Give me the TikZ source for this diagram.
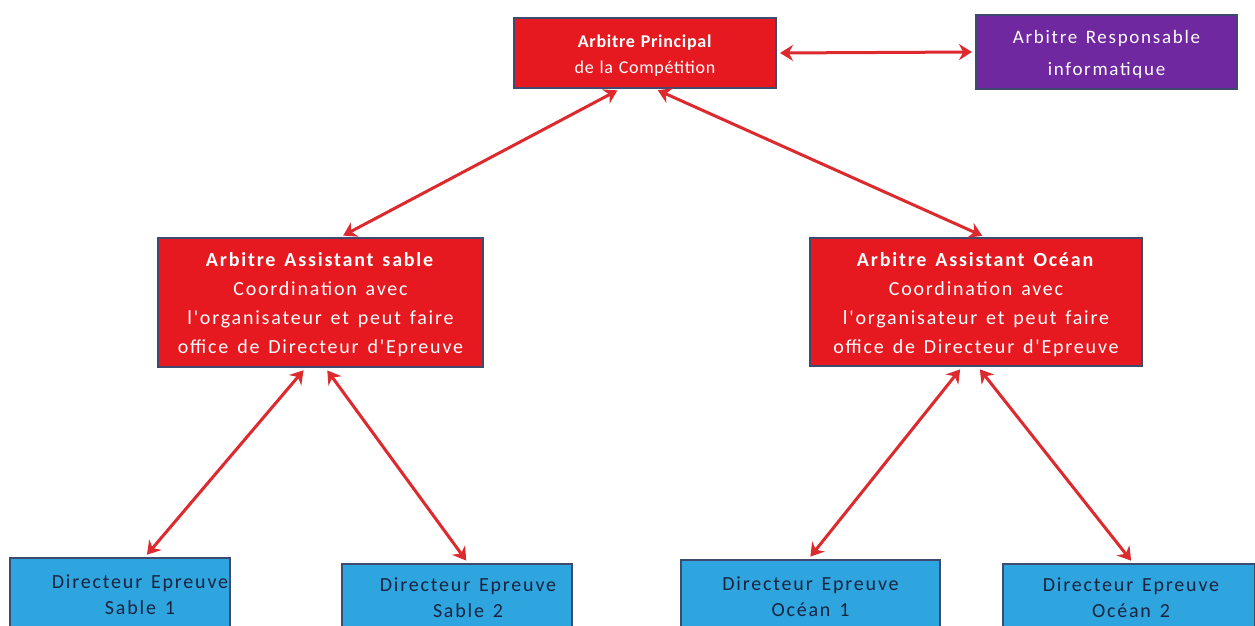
\documentclass[tikz,border=0pt]{standalone}
\usepackage{fontspec}
\setmainfont{Carlito}
\newfontfamily\spaced[LetterSpace=9,WordSpace=1.4]{Carlito}
\newfontfamily\spacedtop[LetterSpace=4,WordSpace=1.2]{Carlito}
\usetikzlibrary{arrows.meta,calc}
\definecolor{boxred}{HTML}{E5191F}
\definecolor{boxedge}{HTML}{3E4A6E}
\definecolor{boxpurple}{HTML}{7028A0}
\definecolor{boxblue}{HTML}{2EA5DE}
\definecolor{navy}{HTML}{1A2340}
\definecolor{arrred}{HTML}{DC2A2E}
\tikzset{
  boxbase/.style={draw=boxedge,line width=2pt,align=center,inner sep=0pt},
  redbox/.style={boxbase,fill=boxred},
  purplebox/.style={boxbase,fill=boxpurple},
  bluebox/.style={boxbase,fill=boxblue},
  whitetext/.style={text=white,align=center,inner sep=0pt},
  bluetext/.style={text=navy,align=center,anchor=north,inner sep=0pt,font=\spaced\fontsize{20}{26}\selectfont},
  arr/.style={draw=arrred,line width=3pt,{Stealth[length=13pt,width=16pt]}-{Stealth[length=13pt,width=16pt]},shorten <=3pt,shorten >=3pt}
}
\begin{document}
\begin{tikzpicture}[x=1pt,y=-1pt]
\useasboundingbox (0,0) rectangle (1255,626);
\clip (0,0) rectangle (1255,626);
\fill[white] (0,0) rectangle (1255,626);
% top row
\node[redbox,minimum width=262pt,minimum height=70pt] (p) at (645,53) {};
\node[whitetext,font=\spacedtop\fontsize{18}{26}\selectfont] (pt) at (645,56) {\textbf{Arbitre Principal}\\de la Compétition};
\node[purplebox,minimum width=261pt,minimum height=74pt] (r) at (1106.5,52) {};
\node[whitetext,font=\spaced\fontsize{19}{32}\selectfont] (rt) at (1106.5,54) {Arbitre Responsable\\informatique};
% middle row
\node[redbox,minimum width=325pt,minimum height=129pt] (sa) at (320.5,302.5) {};
\node[whitetext,font=\spaced\fontsize{20}{29}\selectfont] (sat) at (320.5,304.5) {\textbf{Arbitre Assistant sable}\\Coordination avec\\l'organisateur et peut faire\\office de Directeur d'Epreuve};
\node[redbox,minimum width=332pt,minimum height=128pt] (oa) at (976,302) {};
\node[whitetext,font=\spaced\fontsize{20}{29}\selectfont] (oat) at (976,304.5) {\textbf{Arbitre Assistant Océan}\\Coordination avec\\l'organisateur et peut faire\\office de Directeur d'Epreuve};
% bottom row
\node[bluebox,minimum width=220pt,minimum height=100pt,anchor=north] (s1) at (120,557) {};
\node[bluebox,minimum width=230pt,minimum height=100pt,anchor=north] (s2) at (457,563) {};
\node[bluebox,minimum width=259pt,minimum height=100pt,anchor=north] (o1) at (810.5,559) {};
\node[bluebox,minimum width=252pt,minimum height=100pt,anchor=north] (o2) at (1129,563) {};
\node[bluetext] (t1) at (140,575) {Directeur Epreuve\\Sable 1};
\node[bluetext] (t2) at (468,578) {Directeur Epreuve\\Sable 2};
\node[bluetext] (t3) at (810.5,577) {Directeur Epreuve\\Océan 1};
\node[bluetext] (t4) at (1131,578) {Directeur Epreuve\\Océan 2};
% connectors
\draw[arr] (p.east) -- (r.west);
\draw[arr] ([xshift=-25pt]p.south) -- ([xshift=20pt]sa.north);
\draw[arr] ([xshift=10pt]p.south) -- ([xshift=9pt]oa.north);
\draw[arr] ([xshift=-15pt]sa.south) -- ([xshift=25pt]s1.north);
\draw[arr] ([xshift=5pt]sa.south) -- ([xshift=11pt]s2.north);
\draw[arr] ([xshift=-14pt]oa.south) -- ([xshift=-2pt]o1.north);
\draw[arr] ([xshift=2pt]oa.south) -- ([xshift=4pt]o2.north);
\end{tikzpicture}
\end{document}
